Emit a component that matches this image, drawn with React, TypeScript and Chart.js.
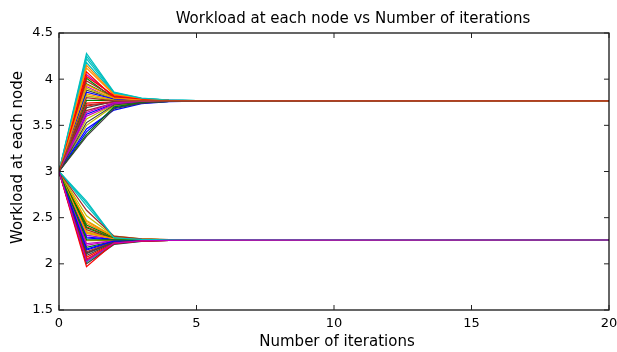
import React, { useEffect, useRef } from "react";
import { Chart, registerables } from "chart.js";
Chart.register(...registerables);

const titleText = "Workload at each node vs Number of iterations";
const xLabelText = "Number of iterations";
const yLabelText = "Workload at each node";

const iterations = [0, 1, 2, 3, 4, 5, 20];
const xTicks = [0, 5, 10, 15, 20];
const yTicks = [1.5, 2, 2.5, 3, 3.5, 4, 4.5];
const startLoad = 3;

// upper group of nodes
const upperIter1 = [3.62, 3.95, 3.71, 4.18, 4.05, 3.5, 3.88, 4.12, 3.66, 3.43, 4.01, 3.74, 4.22, 3.92, 3.57, 3.69, 3.84, 3.98, 3.46, 3.77, 4.08, 4.25, 3.6, 3.9, 3.53, 4.15, 3.72, 3.86, 3.4, 4.03, 4.28, 3.64, 3.82, 3.38, 3.94, 3.8];
const upperIter2 = [3.735, 3.8, 3.75, 3.845, 3.815, 3.71, 3.79, 3.83, 3.74, 3.69, 3.79, 3.755, 3.85, 3.78, 3.725, 3.76, 3.775, 3.81, 3.665, 3.77, 3.8, 3.855, 3.73, 3.79, 3.72, 3.835, 3.75, 3.785, 3.7, 3.82, 3.86, 3.745, 3.77, 3.68, 3.795, 3.765];
const upperIter3 = [3.756, 3.776, 3.76, 3.789, 3.78, 3.749, 3.773, 3.785, 3.758, 3.743, 3.772, 3.762, 3.79, 3.77, 3.753, 3.764, 3.768, 3.779, 3.735, 3.767, 3.775, 3.792, 3.755, 3.772, 3.752, 3.786, 3.761, 3.771, 3.746, 3.781, 3.794, 3.759, 3.766, 3.74, 3.774, 3.765];
const upperIter4 = [3.762, 3.768, 3.764, 3.772, 3.77, 3.76, 3.767, 3.771, 3.763, 3.758, 3.767, 3.764, 3.773, 3.767, 3.761, 3.765, 3.766, 3.769, 3.756, 3.766, 3.768, 3.773, 3.762, 3.767, 3.761, 3.771, 3.764, 3.767, 3.759, 3.77, 3.774, 3.763, 3.765, 3.758, 3.768, 3.765];
const upperIter5 = [3.764, 3.766, 3.765, 3.767, 3.766, 3.763, 3.766, 3.767, 3.764, 3.763, 3.766, 3.765, 3.767, 3.766, 3.764, 3.765, 3.765, 3.766, 3.762, 3.765, 3.766, 3.767, 3.764, 3.766, 3.764, 3.767, 3.765, 3.766, 3.763, 3.766, 3.767, 3.764, 3.765, 3.763, 3.766, 3.765];
const upperFinal = 3.765;

// lower group of nodes
const lowerIter1 = [2.35, 2.12, 2.44, 2.05, 2.28, 2.18, 2.4, 2.02, 2.31, 2.47, 2.09, 2.25, 2.37, 2.15, 2.42, 2.07, 2.63, 2.22, 2.33, 2.0, 2.46, 2.13, 2.29, 2.39, 2.04, 2.66, 2.2, 2.52, 2.11, 2.34, 2.58, 2.16, 2.26, 1.97, 2.68, 2.03];
const lowerIter2 = [2.275, 2.235, 2.29, 2.22, 2.26, 2.245, 2.28, 2.215, 2.265, 2.295, 2.23, 2.255, 2.27, 2.24, 2.285, 2.225, 2.29, 2.25, 2.27, 2.21, 2.29, 2.24, 2.265, 2.275, 2.22, 2.285, 2.25, 2.3, 2.235, 2.27, 2.3, 2.245, 2.26, 2.225, 2.28, 2.225];
const lowerIter3 = [2.263, 2.251, 2.268, 2.247, 2.259, 2.254, 2.265, 2.245, 2.26, 2.269, 2.25, 2.257, 2.262, 2.253, 2.266, 2.248, 2.268, 2.256, 2.262, 2.244, 2.268, 2.253, 2.26, 2.263, 2.247, 2.266, 2.256, 2.271, 2.251, 2.262, 2.271, 2.254, 2.259, 2.248, 2.265, 2.248];
const lowerIter4 = [2.26, 2.256, 2.261, 2.255, 2.258, 2.257, 2.26, 2.254, 2.259, 2.261, 2.256, 2.258, 2.259, 2.257, 2.26, 2.255, 2.261, 2.257, 2.259, 2.254, 2.261, 2.257, 2.259, 2.26, 2.255, 2.26, 2.257, 2.262, 2.256, 2.259, 2.262, 2.257, 2.258, 2.255, 2.26, 2.255];
const lowerIter5 = [2.258, 2.257, 2.259, 2.257, 2.258, 2.258, 2.259, 2.257, 2.258, 2.259, 2.257, 2.258, 2.258, 2.258, 2.259, 2.257, 2.259, 2.258, 2.258, 2.257, 2.259, 2.258, 2.258, 2.259, 2.257, 2.259, 2.258, 2.259, 2.257, 2.258, 2.259, 2.258, 2.258, 2.257, 2.259, 2.257];
const lowerFinal = 2.258;

const palette = ["#0000ff", "#008000", "#ff0000", "#00bfbf", "#bf00bf", "#bfbf00", "#404040", "#ff8c00", "#a52a2a"];

const FONT = '"DejaVu Sans", sans-serif';

function buildSeries(
  it1: number[], it2: number[], it3: number[], it4: number[], it5: number[], fin: number, colorOffset: number
) {
  return it1.map((_, i) => {
    const vals = [startLoad, it1[i], it2[i], it3[i], it4[i], it5[i], fin];
    return {
      data: iterations.map((x, k) => ({ x, y: vals[k] })),
      borderColor: palette[(i + colorOffset) % palette.length],
      borderWidth: 1.2,
      pointRadius: 0,
      fill: false,
      tension: 0,
    };
  });
}

const framePlugin = {
  id: "frame",
  afterDraw(chart: any) {
    const { ctx, chartArea: a, scales } = chart;
    ctx.save();
    ctx.strokeStyle = "#000";
    ctx.lineWidth = 1.2;
    ctx.strokeRect(a.left, a.top, a.right - a.left, a.bottom - a.top);
    ctx.lineWidth = 1;
    ctx.strokeStyle = "#222";
    const tl = 5;
    ctx.beginPath();
    xTicks.forEach((v) => {
      const px = scales.x.getPixelForValue(v);
      ctx.moveTo(px, a.bottom);
      ctx.lineTo(px, a.bottom - tl);
      ctx.moveTo(px, a.top);
      ctx.lineTo(px, a.top + tl);
    });
    yTicks.forEach((v) => {
      const py = scales.y.getPixelForValue(v);
      ctx.moveTo(a.left, py);
      ctx.lineTo(a.left + tl, py);
      ctx.moveTo(a.right, py);
      ctx.lineTo(a.right - tl, py);
    });
    ctx.stroke();

    ctx.fillStyle = "#000";
    ctx.font = `15px ${FONT}`;
    ctx.textAlign = "center";
    ctx.textBaseline = "middle";
    const cx = (a.left + a.right) / 2;
    const cy = (a.top + a.bottom) / 2;
    ctx.fillText(titleText, cx + 19, 19);
    ctx.fillText(xLabelText, cx + 3, 342);
    ctx.translate(18, cy - 14);
    ctx.rotate(-Math.PI / 2);
    ctx.fillText(yLabelText, 0, 0);
    ctx.restore();
  },
};

export default function App() {
  const ref = useRef<HTMLCanvasElement | null>(null);
  useEffect(() => {
    if (!ref.current) return;
    const datasets = [
      ...buildSeries(upperIter1, upperIter2, upperIter3, upperIter4, upperIter5, upperFinal, 0),
      ...buildSeries(lowerIter1, lowerIter2, lowerIter3, lowerIter4, lowerIter5, lowerFinal, 5),
    ].reverse();
    const chart = new Chart(ref.current, {
      type: "line",
      data: { datasets },
      options: {
        animation: false,
        responsive: false,
        maintainAspectRatio: false,
        layout: { padding: { left: 0, right: 8, top: 33, bottom: 0 } },
        plugins: { legend: { display: false }, tooltip: { enabled: false }, title: { display: false } },
        scales: {
          x: {
            type: "linear",
            min: 0,
            max: 20,
            grid: { display: false, drawTicks: false },
            border: { display: false },
            ticks: { stepSize: 5, color: "#000", font: { family: FONT, size: 13 }, padding: 6, maxRotation: 0 },
            afterFit: (s: any) => { s.height = 42; s.paddingLeft = 0; s.paddingRight = 0; },
          },
          y: {
            type: "linear",
            min: 1.5,
            max: 4.5,
            grid: { display: false, drawTicks: false },
            border: { display: false },
            ticks: {
              stepSize: 0.5,
              color: "#000",
              font: { family: FONT, size: 13 },
              padding: 6,
              callback: (v: any) => String(Number(v)),
            },
            afterFit: (s: any) => { s.width = 59; s.paddingTop = 0; s.paddingBottom = 0; },
          },
        },
      },
      plugins: [framePlugin],
    });
    return () => chart.destroy();
  }, []);
  return (
    <div style={{ position: "fixed", left: 0, top: 0, width: 617, height: 352, background: "#fff" }}>
      <canvas ref={ref} width={617} height={352} />
    </div>
  );
}
